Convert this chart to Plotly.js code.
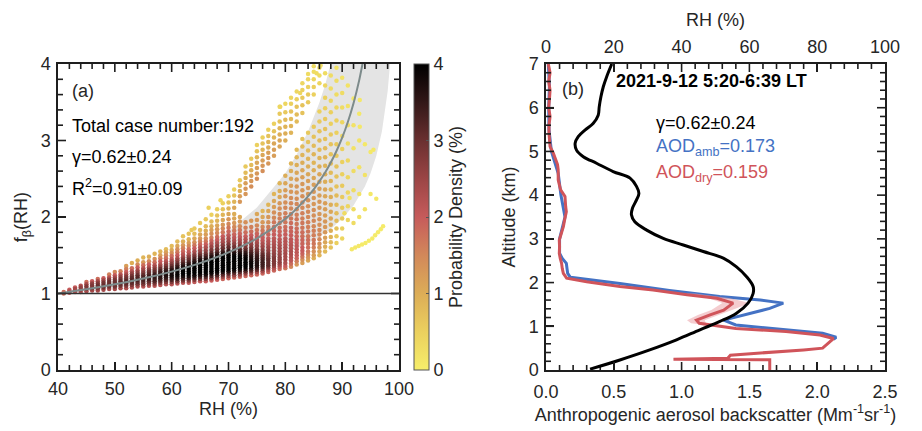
<!DOCTYPE html>
<html><head><meta charset="utf-8">
<script src="https://cdn.plot.ly/plotly-3.0.1.min.js"></script>
<style>body{margin:0;background:#fff}#chart{width:922px;height:431px}</style>
</head><body><div id="chart"></div>
<script>
// ---------- Panel (a): scatter columns ----------
const rhCols = [41,42,43,44,45,46,47,48,49,50,51,52,53,54,55,56,57,58,59,60,61,62,63,64,65,66,67,68,69,70,71,72,73,74,75,76,77,78,79,80,81,82,83,84,85,86,87,88,89,90,91,92,93,94,95,96];
const fbCols = [
[1.00,1.02],
[1.01,1.03,1.05],
[1.02,1.04,1.06,1.08],
[1.02,1.05,1.08,1.10],
[1.03,1.06,1.09,1.12,1.15],
[1.04,1.07,1.10,1.13,1.16],
[1.04,1.07,1.10,1.13,1.16,1.19],
[1.05,1.08,1.11,1.14,1.17,1.20],
[1.06,1.09,1.12,1.15,1.18,1.21,1.25],
[1.06,1.09,1.12,1.15,1.18,1.21,1.24,1.28],
[1.07,1.10,1.13,1.16,1.19,1.22,1.25,1.29],
[1.07,1.10,1.13,1.16,1.19,1.22,1.25,1.28,1.32,1.36],
[1.08,1.11,1.14,1.17,1.20,1.23,1.26,1.29,1.33,1.40],
[1.09,1.12,1.15,1.18,1.21,1.24,1.27,1.30,1.34,1.38,1.43],
[1.09,1.12,1.15,1.18,1.21,1.24,1.27,1.30,1.33,1.37,1.41,1.47],
[1.10,1.13,1.16,1.19,1.22,1.25,1.28,1.31,1.34,1.38,1.42,1.48],
[1.10,1.13,1.16,1.19,1.22,1.25,1.28,1.31,1.34,1.37,1.41,1.45,1.52],
[1.11,1.14,1.17,1.20,1.23,1.26,1.29,1.32,1.35,1.38,1.42,1.46,1.50,1.55],
[1.12,1.15,1.18,1.21,1.24,1.27,1.30,1.33,1.36,1.39,1.42,1.46,1.50,1.54,1.58],
[1.12,1.15,1.18,1.21,1.24,1.27,1.30,1.33,1.36,1.39,1.42,1.45,1.49,1.53,1.57,1.62],
[1.13,1.16,1.19,1.22,1.25,1.28,1.31,1.34,1.37,1.40,1.43,1.46,1.50,1.54,1.58,1.62,1.68],
[1.14,1.17,1.20,1.23,1.26,1.29,1.32,1.35,1.38,1.41,1.44,1.47,1.51,1.55,1.59,1.63,1.68,1.75],
[1.14,1.17,1.20,1.23,1.26,1.29,1.32,1.35,1.38,1.41,1.44,1.47,1.50,1.54,1.58,1.62,1.66,1.71,1.78],
[1.15,1.18,1.21,1.24,1.27,1.30,1.33,1.36,1.39,1.42,1.45,1.48,1.51,1.55,1.59,1.63,1.67,1.72,1.78,1.85],
[1.16,1.19,1.22,1.25,1.28,1.31,1.34,1.37,1.40,1.43,1.46,1.49,1.52,1.56,1.60,1.64,1.68,1.72,1.77,1.83,1.92],
[1.16,1.19,1.22,1.25,1.28,1.31,1.34,1.37,1.40,1.43,1.46,1.49,1.52,1.56,1.60,1.64,1.68,1.72,1.77,1.82,1.88,1.97],
[1.17,1.20,1.23,1.26,1.29,1.32,1.35,1.38,1.41,1.44,1.47,1.50,1.53,1.57,1.61,1.65,1.69,1.73,1.78,1.83,1.88,1.94,2.03],
[1.18,1.21,1.24,1.27,1.30,1.33,1.36,1.39,1.42,1.45,1.48,1.51,1.54,1.58,1.62,1.66,1.70,1.74,1.79,1.84,1.89,1.95,2.02,2.10],
[1.19,1.22,1.25,1.28,1.31,1.34,1.37,1.40,1.43,1.46,1.49,1.52,1.55,1.59,1.63,1.67,1.71,1.75,1.80,1.85,1.90,1.96,2.03,2.10,2.18],
[1.20,1.23,1.26,1.29,1.32,1.35,1.38,1.41,1.44,1.47,1.50,1.53,1.56,1.60,1.64,1.68,1.72,1.76,1.81,1.86,1.91,1.97,2.04,2.11,2.19,2.27],
[1.21,1.24,1.27,1.30,1.33,1.36,1.39,1.42,1.45,1.48,1.51,1.54,1.57,1.61,1.65,1.69,1.73,1.77,1.82,1.87,1.92,1.98,2.04,2.12,2.20,2.28,2.36],
[1.22,1.25,1.28,1.31,1.34,1.37,1.40,1.43,1.46,1.49,1.52,1.55,1.58,1.62,1.66,1.70,1.74,1.78,1.83,1.88,1.94,2.00,2.20,2.27,2.34,2.41,2.48],
[1.23,1.26,1.29,1.32,1.35,1.38,1.41,1.44,1.47,1.50,1.53,1.56,1.59,1.63,1.67,1.71,1.75,1.80,1.86,1.93,2.30,2.37,2.44,2.51,2.58,2.66],
[1.24,1.27,1.30,1.33,1.36,1.39,1.42,1.45,1.48,1.51,1.54,1.57,1.60,1.64,1.68,1.72,1.76,1.81,1.87,1.95,2.40,2.47,2.54,2.61,2.68,2.76],
[1.25,1.28,1.31,1.34,1.37,1.40,1.43,1.46,1.49,1.52,1.55,1.58,1.62,1.66,1.70,1.74,1.78,1.83,1.89,1.96,2.04,2.50,2.57,2.64,2.71,2.78,2.86,2.94],
[1.26,1.29,1.32,1.35,1.38,1.41,1.44,1.47,1.50,1.53,1.57,1.61,1.65,1.69,1.73,1.77,1.82,1.87,1.93,2.00,2.08,2.60,2.67,2.74,2.81,2.88,2.96,3.04],
[1.28,1.31,1.34,1.37,1.40,1.43,1.46,1.49,1.52,1.56,1.60,1.64,1.68,1.72,1.77,1.82,1.87,1.93,2.00,2.08,2.16,2.70,2.77,2.84,2.91,2.98,3.06,3.14],
[1.30,1.33,1.36,1.39,1.42,1.45,1.48,1.52,1.56,1.60,1.64,1.68,1.72,1.77,1.82,1.87,1.93,1.99,2.06,2.13,2.21,2.30,2.80,2.88,2.96,3.04,3.12,3.22],
[1.32,1.35,1.38,1.41,1.44,1.47,1.51,1.55,1.59,1.63,1.67,1.71,1.76,1.81,1.86,1.92,1.98,2.04,2.11,2.18,2.26,2.34,2.44,2.92,3.00,3.08,3.16,3.25,3.35,3.44],
[1.33,1.36,1.40,1.44,1.48,1.52,1.56,1.60,1.64,1.68,1.72,1.77,1.82,1.87,1.93,1.99,2.05,2.12,2.19,2.27,2.35,2.44,2.54,3.00,3.09,3.18,3.27,3.37,3.48],
[1.35,1.39,1.43,1.47,1.51,1.55,1.59,1.63,1.67,1.71,1.76,1.81,1.86,1.92,1.98,2.04,2.11,2.18,2.25,2.33,2.41,2.50,2.60,2.70,3.10,3.19,3.28,3.38,3.48,3.56],
[1.38,1.42,1.46,1.50,1.54,1.58,1.62,1.66,1.70,1.75,1.80,1.85,1.91,1.97,2.03,2.10,2.17,2.24,2.32,2.40,2.49,2.58,2.68,2.78,2.88,3.25,3.34,3.44,3.54,3.64],
[1.40,1.44,1.48,1.52,1.56,1.60,1.65,1.70,1.75,1.80,1.86,1.92,1.98,2.05,2.12,2.19,2.27,2.35,2.43,2.52,2.61,2.71,2.81,2.92,3.02,3.36,3.46,3.56,3.66,3.75],
[1.43,1.47,1.51,1.55,1.60,1.65,1.70,1.75,1.81,1.87,1.93,2.00,2.07,2.14,2.22,2.30,2.38,2.47,2.56,2.66,2.76,2.87,2.98,3.10,3.50,3.60,3.70,3.80,3.87],
[1.46,1.50,1.55,1.60,1.65,1.70,1.76,1.82,1.88,1.95,2.02,2.09,2.17,2.25,2.33,2.42,2.51,2.61,2.71,2.82,2.93,3.05,3.18,3.60,3.70,3.80,3.90,3.97],
[1.50,1.55,1.60,1.65,1.71,1.77,1.83,1.90,1.97,2.04,2.12,2.20,2.28,2.37,2.46,2.56,2.66,2.77,2.88,3.00,3.12,3.25,3.38,3.75,3.85,3.95],
[1.55,1.61,1.67,1.73,1.80,1.87,1.94,2.02,2.10,2.18,2.27,2.36,2.46,2.56,2.67,2.78,2.90,3.02,3.15,3.28,3.42,3.56,3.72,3.88],
[1.60,1.67,1.74,1.82,1.90,1.98,2.07,2.16,2.26,2.36,2.47,2.58,2.70,2.82,2.95,3.08,3.22,3.37,3.52,3.68,3.85],
[1.66,1.75,1.85,1.95,2.05,2.16,2.28,2.40,2.53,2.66,2.80,2.95,3.10,3.26,3.43,3.60,3.78,3.95],
[1.72,1.85,1.98,2.12,2.26,2.41,2.56,2.72,2.89,3.06,3.24,3.43,3.62,3.82],
[1.96,2.14,2.32,2.52,2.74,2.96,3.20,3.45,3.72],
[1.92,2.10,2.35,2.60,2.90,3.20,3.55],
[2.00,2.30,2.65,3.00,3.35],
[2.10,2.55,2.95],
[2.30,2.85],
[2.24]
];
const denCols = [
[1.8,1.8],
[2,2.2,2],
[2,2.4,2.4,2],
[2.2,2.6,2.6,2.2],
[2.3,2.8,2.8,2.4,1.8],
[2.4,2.8,2.8,2.6,2],
[2.4,2.8,3,2.8,2.4,1.8],
[2.4,2.9,3,2.9,2.5,2],
[2.4,2.9,3,3,2.7,2.2,1.6],
[2.4,2.9,3,3,2.8,2.4,2,1.5],
[2.4,2.9,3.1,3.1,2.9,2.6,2.2,1.6],
[2.3,2.8,3.1,3.2,3,2.8,2.4,2,1.6,1.2],
[2.3,2.8,3.1,3.2,3.1,2.9,2.6,2.2,1.8,1.0],
[2.3,2.8,3.1,3.3,3.2,3,2.7,2.4,2,1.5,1.0],
[2.2,2.8,3.1,3.3,3.3,3.1,2.8,2.5,2.2,1.8,1.3,0.9],
[2.2,2.8,3.1,3.4,3.4,3.2,3,2.7,2.3,2,1.5,1],
[2.2,2.8,3.2,3.4,3.5,3.4,3.1,2.8,2.5,2.2,1.8,1.4,0.9],
[2.2,2.8,3.2,3.5,3.6,3.5,3.3,3,2.6,2.3,2,1.6,1.2,0.9],
[2.2,2.8,3.2,3.5,3.7,3.6,3.4,3.1,2.8,2.5,2.2,1.8,1.5,1.2,0.8],
[2.2,2.8,3.3,3.6,3.8,3.8,3.6,3.3,3,2.7,2.4,2.1,1.8,1.4,1.1,0.8],
[2.2,2.9,3.4,3.7,3.9,3.9,3.8,3.5,3.2,2.9,2.6,2.3,2,1.7,1.4,1.1,0.8],
[2.2,2.9,3.4,3.8,4,4,3.9,3.7,3.4,3.1,2.8,2.5,2.2,1.9,1.6,1.3,1,0.7],
[2.1,2.8,3.4,3.8,4,4,4,3.8,3.6,3.3,3,2.7,2.4,2.1,1.8,1.5,1.2,0.9,0.7],
[2.1,2.8,3.4,3.8,4,4,4,4,3.8,3.5,3.2,2.9,2.6,2.3,2,1.7,1.4,1.1,0.8,0.6],
[2.1,2.8,3.4,3.8,4,4,4,4,3.9,3.7,3.4,3.1,2.8,2.5,2.2,1.9,1.6,1.3,1.1,0.8,0.6],
[2,2.7,3.3,3.8,4,4,4,4,4,3.8,3.5,3.2,2.9,2.6,2.3,2,1.7,1.4,1.2,1,0.8,0.6],
[2,2.7,3.3,3.8,4,4,4,4,4,3.9,3.7,3.4,3.1,2.8,2.5,2.2,1.9,1.6,1.4,1.2,1,0.8,0.5],
[2,2.7,3.3,3.8,4,4,4,4,4,4,3.8,3.5,3.2,2.9,2.6,2.3,2,1.8,1.5,1.3,1.1,0.9,0.7,0.5],
[1.9,2.6,3.2,3.7,4,4,4,4,4,4,3.9,3.6,3.3,3,2.7,2.4,2.2,2,1.7,1.5,1.3,1.1,0.9,0.7,0.5],
[1.9,2.6,3.2,3.7,4,4,4,4,4,4,3.9,3.7,3.4,3.1,2.8,2.5,2.3,2.1,1.9,1.7,1.5,1.3,1.1,0.9,0.7,0.5],
[1.9,2.6,3.2,3.7,4,4,4,4,4,4,3.8,3.5,3.2,2.9,2.6,2.3,2.1,1.9,1.7,1.5,1.3,1.1,1,1.1,0.9,0.7,0.5],
[1.9,2.6,3.2,3.7,4,4,4,4,4,3.9,3.7,3.4,3.1,2.8,2.5,2.3,2.1,1.9,1.7,1.5,1.3,1.1,1.3,1.2,1.0,0.8,0.6],
[1.9,2.6,3.2,3.7,4,4,4,4,3.9,3.7,3.5,3.2,2.9,2.6,2.4,2.2,2,1.8,1.6,1.4,1.3,1.3,1.2,1.0,0.8,0.6],
[1.9,2.6,3.2,3.6,3.9,3.9,3.8,3.7,3.6,3.4,3.2,3.0,2.8,2.6,2.4,2.2,2,1.8,1.6,1.3,1.4,1.3,1.2,1.0,0.8,0.6],
[1.9,2.5,3.1,3.5,3.7,3.7,3.6,3.5,3.4,3.2,3.0,2.8,2.6,2.4,2.2,2.0,1.9,1.7,1.5,1.3,1.1,1.4,1.3,1.2,1.1,0.9,0.7,0.5],
[1.9,2.4,2.9,3.3,3.4,3.4,3.3,3.2,3.1,2.9,2.7,2.5,2.3,2.1,2.0,1.9,1.7,1.5,1.3,1.1,0.9,1.4,1.3,1.2,1.1,0.9,0.7,0.5],
[1.9,2.3,2.8,3.1,3.1,3.1,3.0,2.9,2.8,2.6,2.5,2.3,2.2,2.0,1.9,1.7,1.6,1.4,1.3,1.1,0.9,1.3,1.3,1.2,1.0,0.9,0.7,0.5],
[1.9,2.2,2.6,2.8,2.8,2.8,2.7,2.6,2.5,2.4,2.3,2.2,2.1,2.0,1.9,1.8,1.7,1.5,1.4,1.2,1.1,0.9,1.2,1.2,1.1,0.9,0.7,0.5],
[1.8,2.1,2.4,2.6,2.6,2.6,2.5,2.4,2.4,2.3,2.2,2.1,2.0,1.9,1.8,1.7,1.6,1.5,1.4,1.3,1.1,1.0,0.9,1.1,1.1,1.0,0.9,0.7,0.6,0.4],
[1.7,2.0,2.3,2.4,2.4,2.4,2.3,2.3,2.2,2.2,2.1,2.0,1.9,1.8,1.7,1.7,1.6,1.5,1.4,1.3,1.2,1.1,1.0,1.0,1.0,0.9,0.8,0.6,0.4],
[1.5,1.8,2.1,2.2,2.3,2.3,2.2,2.2,2.1,2.1,2.0,1.9,1.9,1.8,1.7,1.6,1.5,1.5,1.4,1.3,1.2,1.1,1.0,0.9,0.9,0.9,0.8,0.7,0.5,0.4],
[1.3,1.6,1.9,2.0,2.1,2.1,2.1,2.0,2.0,1.9,1.9,1.8,1.7,1.7,1.6,1.5,1.5,1.4,1.3,1.3,1.2,1.1,1.0,0.9,0.8,0.8,0.8,0.7,0.5,0.4],
[1.2,1.4,1.7,1.9,2.0,2.0,1.9,1.9,1.8,1.8,1.7,1.7,1.6,1.6,1.5,1.5,1.4,1.3,1.3,1.2,1.1,1.0,0.9,0.8,0.7,0.7,0.7,0.6,0.5,0.4],
[1.1,1.3,1.5,1.7,1.8,1.8,1.8,1.7,1.7,1.6,1.6,1.5,1.5,1.4,1.4,1.3,1.3,1.2,1.1,1.0,0.9,0.8,0.7,0.6,0.6,0.6,0.5,0.4,0.3],
[1.0,1.2,1.4,1.6,1.7,1.7,1.6,1.6,1.5,1.5,1.4,1.4,1.3,1.3,1.3,1.2,1.1,1.0,0.9,0.9,0.8,0.7,0.6,0.5,0.5,0.4,0.3,0.3],
[0.9,1.1,1.3,1.4,1.5,1.5,1.5,1.4,1.4,1.3,1.3,1.3,1.2,1.2,1.1,1.1,1.0,0.9,0.8,0.8,0.7,0.6,0.5,0.4,0.3,0.3],
[0.8,1.0,1.1,1.2,1.3,1.3,1.3,1.2,1.2,1.2,1.1,1.1,1.0,1.0,0.9,0.9,0.8,0.7,0.7,0.6,0.5,0.5,0.4,0.3],
[0.7,0.8,0.9,1.0,1.1,1.1,1.1,1.0,1.0,0.9,0.9,0.8,0.8,0.7,0.7,0.6,0.5,0.5,0.4,0.3,0.3],
[0.5,0.6,0.7,0.8,0.8,0.8,0.8,0.7,0.7,0.7,0.6,0.6,0.5,0.5,0.4,0.3,0.3,0.2],
[0.4,0.5,0.6,0.6,0.6,0.6,0.5,0.5,0.5,0.4,0.4,0.3,0.3,0.2],
[0.4,0.4,0.4,0.4,0.4,0.3,0.3,0.2,0.2],
[0.3,0.3,0.3,0.3,0.2,0.2,0.1],
[0.2,0.2,0.2,0.2,0.1],
[0.2,0.2,0.1],
[0.1,0.1],
[0.1]
];
// isolated outlying dots (yellow tail on the right, upper-left edge)
const extraRH = [91.7,92.3,92.9,93.5,94.1,94.7,95.3,95.8,96.3,96.8,97.2,93.1,95.5,93.1,90.4,91.3,63.5,66.5,68.6,79.1,82.6,85.5,86.2];
const extraFb = [1.58,1.60,1.62,1.64,1.66,1.69,1.72,1.76,1.80,1.84,1.88,3.18,2.88,3.53,2.05,2.25,1.83,2.12,2.22,3.44,3.62,3.88,3.98];
const extraDen= [0.1,0.1,0.1,0.05,0.05,0.05,0.05,0.05,0.05,0.05,0.05,0.1,0.1,0.1,0.3,0.2,0.6,0.5,0.4,0.4,0.4,0.3,0.3];

// fitted curve (gamma = 0.62) and its gamma range band (0.38 .. 0.86)
const fitRH   = [40,45,50,55,60,65,70,75,80,82,85,87,88,89,90,91,92,93,94];
const fitFb   = [1,1.055,1.120,1.195,1.286,1.397,1.537,1.721,1.976,2.110,2.362,2.581,2.712,2.863,3.037,3.242,3.488,3.789,4.169];
const bandHiRH = [40,45,50,55,60,65,70,75,80,82,84,85,86,87,88,89];
const bandHiFb = [1,1.078,1.170,1.281,1.417,1.590,1.815,2.123,2.572,2.816,3.117,3.294,3.496,3.726,3.991,4.30];
const bandLoRH = [40,45,50,55,60,65,70,75,80,85,88,90,92,94,95,96,97,98,98.5];
const bandLoFb = [1,1.034,1.072,1.116,1.167,1.227,1.301,1.395,1.518,1.694,1.843,1.976,2.150,2.399,2.571,2.799,3.122,3.642,4.063];

// ---------- Panel (b): profiles ----------
const altDry = [7.0,6.8,6.6,6.4,6.18,6.0,5.8,5.6,5.42,5.25,5.11,4.96,4.81,4.7,4.58,4.45,4.35,4.22,4.12,3.97,3.85,3.74,3.62,3.51,3.4,3.28,3.12,2.97,2.82,2.67,2.55,2.44,2.32,2.21,2.10,2.02,1.91,1.83,1.72,1.64,1.53,1.45,1.37,1.26,1.14,1.07,0.95,0.88,0.80,0.72,0.61,0.50,0.46,0.40,0.34,0.27,0.245,0.235,0.0];
const bsDry  = [0.017,0.03,0.02,0.03,0.025,0.02,0.03,0.022,0.022,0.028,0.03,0.054,0.074,0.085,0.09,0.088,0.09,0.1,0.108,0.14,0.14,0.145,0.15,0.14,0.135,0.128,0.11,0.098,0.1,0.098,0.105,0.115,0.12,0.128,0.152,0.30,0.545,0.79,1.04,1.26,1.38,1.34,1.31,1.21,1.11,1.13,1.40,1.77,2.02,2.12,2.08,2.04,1.90,1.60,1.36,1.34,0.94,1.65,1.65];
const altAmb = [7.0,6.5,6.0,5.5,5.0,4.5,4.0,3.5,3.0,2.67,2.55,2.44,2.32,2.21,2.12,1.98,1.82,1.68,1.60,1.53,1.41,1.26,1.14,1.03,0.92,0.84,0.75,0.70];
const bsAmb  = [0.017,0.025,0.02,0.022,0.04,0.09,0.11,0.14,0.10,0.10,0.12,0.15,0.155,0.16,0.18,0.545,0.91,1.28,1.58,1.75,1.65,1.45,1.31,1.40,1.77,2.04,2.14,2.12];
const shadeAlt = [1.75,1.64,1.53,1.45,1.37,1.26,1.14,1.07,1.02];
const shadeLo  = [1.00,1.20,1.30,1.26,1.22,1.12,1.04,1.07,1.20];
const shadeHi  = [1.10,1.36,1.50,1.44,1.38,1.28,1.17,1.18,1.30];
const altRH = [7.0,6.71,6.48,6.25,6.02,5.83,5.64,5.49,5.34,5.19,5.03,4.88,4.73,4.54,4.39,4.20,4.04,3.89,3.70,3.55,3.39,3.20,3.01,2.86,2.71,2.56,2.36,2.14,1.91,1.75,1.53,1.30,1.11,0.92,0.69,0.46,0.23,0.02];
const rhProf = [19.4,17.9,16.9,16.2,15.7,15.4,13.9,11.5,9.5,8.6,9.0,11.0,14.9,19.8,24.8,26.7,27.4,26.7,25.5,25.2,26.2,29.7,34.6,40.5,46.4,52.3,56.2,59.1,61.1,61.1,59.6,56.2,51.3,45.4,38.5,30.6,21.8,13.0];

// ---------- build ----------
const pts = [];
rhCols.forEach((r, i) => {
  fbCols[i].forEach((f, j) => pts.push([r, f, denCols[i][j] !== undefined ? denCols[i][j] : 0.5]));
});
extraRH.forEach((r, i) => pts.push([r, extraFb[i], extraDen[i]]));
pts.sort((a, b) => a[2] - b[2]);

const FONT = 'Liberation Sans, Arial, sans-serif';
const TXT = '#262626';
const LINE = '#1e1e1e';
const cscale = [[0,'#f6ee6a'],[0.125,'#ebd05e'],[0.25,'#dcad57'],[0.375,'#d2885a'],[0.5,'#c65b5b'],[0.625,'#9b4545'],[0.75,'#6a3030'],[0.875,'#321818'],[1,'#000000']];

// inside tick marks of the frames, drawn as line segments in axis units
const PH = 306, PWL = 341, PWR = 339, MAJ = 8, MIN = 5;
function tickSeg(range, major, minor, pix) {
  const out = [];
  const n = Math.round((range[1] - range[0]) / minor);
  const every = Math.round(major / minor);
  for (let i = 1; i < n; i++) out.push([range[0] + i * minor, (i % every === 0 ? MAJ : MIN) / pix]);
  return out;
}
function frameTicks(xr, yr, xMaj, xMin, yMaj, yMin, pw, sides) {
  const X = [], Y = [];
  const dx = xr[1] - xr[0], dy = yr[1] - yr[0];
  tickSeg(xr, xMaj, xMin, PH).forEach(([v, f]) => {
    if (sides.indexOf('b') >= 0) { X.push(v, v, null); Y.push(yr[0], yr[0] + f * dy, null); }
    if (sides.indexOf('t') >= 0) { X.push(v, v, null); Y.push(yr[1], yr[1] - f * dy, null); }
  });
  if (yMaj) tickSeg(yr, yMaj, yMin, pw).forEach(([v, f]) => {
    X.push(xr[0], xr[0] + f * dx, null); Y.push(v, v, null);
    X.push(xr[1], xr[1] - f * dx, null); Y.push(v, v, null);
  });
  return {X, Y};
}
const tA = frameTicks([40,100], [0,4], 10, 2, 1, 0.2, PWL, 'bt');
const tB = frameTicks([0,2.5], [0,7], 0.5, 0.1, 1, 0.2, PWR, 'b');
const tC = frameTicks([0,100], [0,7], 20, 4, 0, 0, PWR, 't');

const tickLine = () => ({color:LINE, width:1.6, simplify:false});
const traces = [
  { x: bandHiRH.concat(bandLoRH.slice().reverse()), y: bandHiFb.concat(bandLoFb.slice().reverse()),
    xaxis:'x', yaxis:'y', mode:'lines', fill:'toself', fillcolor:'#e4e4e4', line:{width:0}, hoverinfo:'skip', showlegend:false },
  { x: pts.map(p=>p[0]), y: pts.map(p=>p[1]), xaxis:'x', yaxis:'y', mode:'markers', showlegend:false,
    marker:{ size:4.5, color: pts.map(p=>p[2]), colorscale: cscale, cmin:0, cmax:4, showscale:true, line:{width:0},
      colorbar:{ x:414/922, xanchor:'left', xpad:0, ypad:0, y:61/431, yanchor:'bottom', len:306/431, lenmode:'fraction',
        thickness:15, thicknessmode:'pixels', outlinewidth:1, outlinecolor:'#555',
        tickvals:[0,1,2,3,4], ticks:'inside', ticklen:3, tickcolor:'#555', tickfont:{size:18, color:TXT, family:FONT},
        title:{ text:'Probability Density (%)', side:'right', font:{size:18, color:TXT, family:FONT} } } } },
  { x: fitRH, y: fitFb, xaxis:'x', yaxis:'y', mode:'lines', line:{color:'#7d8b8b', width:2, shape:'spline'}, showlegend:false },
  { x: bsAmb, y: altAmb, xaxis:'x2', yaxis:'y2', mode:'lines', line:{color:'#4472c4', width:3}, showlegend:false },
  { x: shadeLo.concat(shadeHi.slice().reverse()), y: shadeAlt.concat(shadeAlt.slice().reverse()), xaxis:'x2', yaxis:'y2',
    mode:'lines', fill:'toself', fillcolor:'rgba(236,170,175,0.6)', line:{width:0}, hoverinfo:'skip', showlegend:false },
  { x: bsDry, y: altDry, xaxis:'x2', yaxis:'y2', mode:'lines', line:{color:'#d0545a', width:3}, showlegend:false },
  { x: rhProf, y: altRH, xaxis:'x3', yaxis:'y2', mode:'lines', line:{color:'#000000', width:3, shape:'spline'}, showlegend:false },
  { x: tA.X, y: tA.Y, xaxis:'x', yaxis:'y', mode:'lines', line:tickLine(), connectgaps:false, hoverinfo:'skip', showlegend:false, cliponaxis:false },
  { x: tB.X, y: tB.Y, xaxis:'x2', yaxis:'y2', mode:'lines', line:tickLine(), connectgaps:false, hoverinfo:'skip', showlegend:false, cliponaxis:false },
  { x: tC.X, y: tC.Y, xaxis:'x3', yaxis:'y2', mode:'lines', line:tickLine(), connectgaps:false, hoverinfo:'skip', showlegend:false, cliponaxis:false }
];

const ax = (o) => Object.assign({
  showline:true, linecolor:LINE, linewidth:1.6, mirror:true, ticks:'inside', ticklen:MAJ, tickwidth:1.6, tickcolor:LINE,
  showgrid:false, zeroline:false, tickfont:{size:18, color:TXT, family:FONT}
}, o);

const y0 = 1 - 370/431, y1 = 1 - 64/431;
const layout = {
  width:922, height:431, margin:{l:0,r:0,t:0,b:0}, paper_bgcolor:'#fff',
  font:{family:FONT, color:TXT, size:18}, showlegend:false,
  xaxis: ax({ domain:[58/922, 399/922], anchor:'y', range:[40,100], dtick:10, ticklabelstandoff:2,
    title:{text:'RH (%)', font:{size:18, color:TXT}, standoff:4} }),
  yaxis: ax({ domain:[y0, y1], anchor:'x', range:[0,4], dtick:1, ticklabelstandoff:2,
    title:{text:'f<sub>β</sub>(RH)', font:{size:18, color:TXT}, standoff:8} }),
  xaxis2: ax({ domain:[546/922, 885/922], anchor:'y2', range:[0,2.5], dtick:0.5, tickformat:'.1f', mirror:false, ticklabelstandoff:5,
    title:{text:'Anthropogenic aerosol backscatter (Mm<sup>-1</sup>sr<sup>-1</sup>)', font:{size:18, color:TXT}, standoff:4} }),
  xaxis3: ax({ overlaying:'x2', anchor:'y2', side:'top', range:[0,100], dtick:20, mirror:false, ticklabelstandoff:2,
    title:{text:'RH (%)', font:{size:18, color:TXT}, standoff:6} }),
  yaxis2: ax({ domain:[y0, y1], anchor:'x2', range:[0,7], dtick:1, ticklabelstandoff:2,
    title:{text:'Altitude (km)', font:{size:18, color:TXT}, standoff:8} }),
  shapes:[ { type:'line', xref:'x domain', yref:'y', x0:0, x1:1, y0:1, y1:1, line:{color:'#333', width:1.3} } ],
  annotations:[
    {xref:'x', yref:'y', x:42.1, y:3.65, text:'(a)', showarrow:false, xanchor:'left', font:{size:18, color:TXT}},
    {xref:'x', yref:'y', x:42.1, y:3.19, text:'Total case number:192', showarrow:false, xanchor:'left', font:{size:18, color:'#000'}},
    {xref:'x', yref:'y', x:42.1, y:2.79, text:'γ=0.62±0.24', showarrow:false, xanchor:'left', font:{size:18, color:'#000'}},
    {xref:'x', yref:'y', x:42.1, y:2.39, text:'R<sup>2</sup>=0.91±0.09', showarrow:false, xanchor:'left', font:{size:18, color:'#000'}},
    {xref:'x2', yref:'y2', x:0.10, y:6.42, text:'(b)', showarrow:false, xanchor:'left', font:{size:18, color:TXT}},
    {xref:'x2', yref:'y2', x:0.50, y:6.62, text:'<b>2021-9-12 5:20-6:39 LT</b>', showarrow:false, xanchor:'left', font:{size:18, color:'#000'}},
    {xref:'x2', yref:'y2', x:0.80, y:5.66, text:'γ=0.62±0.24', showarrow:false, xanchor:'left', font:{size:18, color:'#000'}},
    {xref:'x2', yref:'y2', x:0.80, y:5.10, text:'AOD<sub>amb</sub>=0.173', showarrow:false, xanchor:'left', font:{size:18, color:'#4472c4'}},
    {xref:'x2', yref:'y2', x:0.80, y:4.50, text:'AOD<sub>dry</sub>=0.159', showarrow:false, xanchor:'left', font:{size:18, color:'#d0545a'}}
  ]
};
Plotly.newPlot('chart', traces, layout, {displayModeBar:false, staticPlot:true});
</script></body></html>
